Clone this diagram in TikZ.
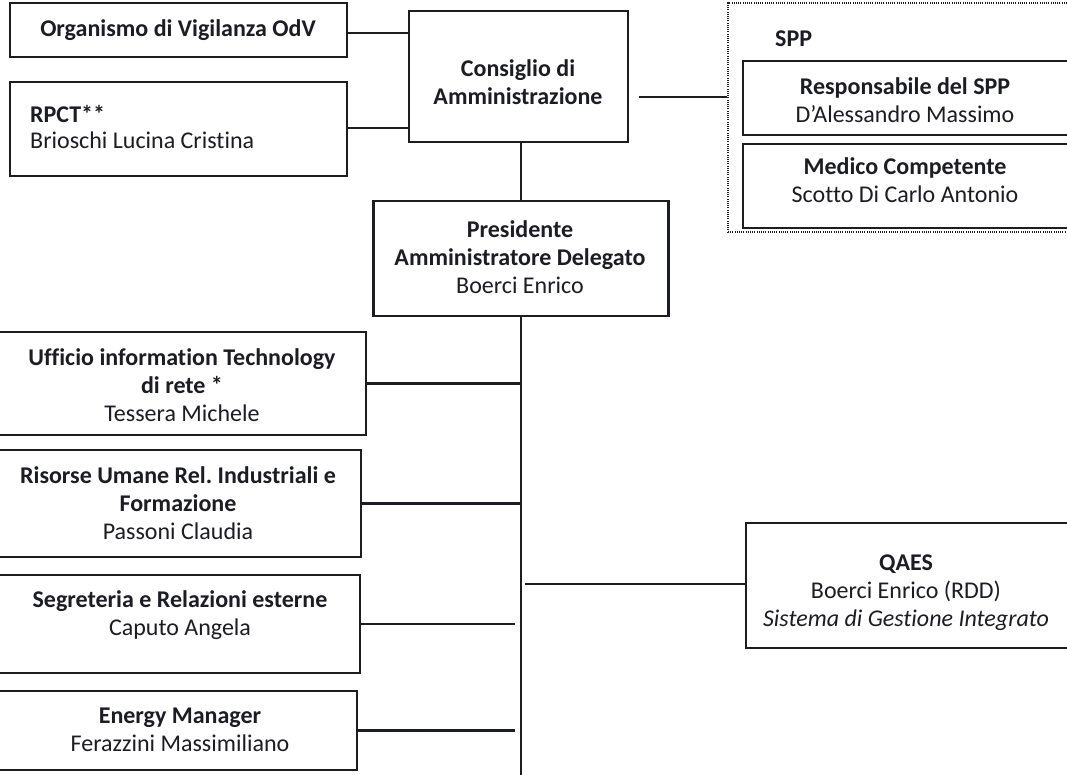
\documentclass[tikz,border=0pt]{standalone}
\usepackage{fontspec}
\setmainfont{Carlito}[Ligatures={NoCommon}]
\definecolor{ink}{RGB}{28,28,36}
\frenchspacing
\begin{document}
\begin{tikzpicture}[x=1pt,y=-1pt,
  box/.style={draw=ink, line width=2.2pt, inner sep=0pt, fill=none},
  dotbox/.style={draw=ink, line width=1.5pt, dash pattern=on 1pt off 1.2pt, inner sep=0pt},
  txt/.style={text=ink, align=center, inner sep=0pt, font=\fontsize{24}{28}\selectfont},
  ltxt/.style={text=ink, align=left, inner sep=0pt, font=\fontsize{24}{25}\selectfont},
  conn/.style={draw=ink, line width=2.2pt}]
\fill[white] (0,0) rectangle (1067,774);
\useasboundingbox (0,0) rectangle (1067,774);
% boxes
\node[box, minimum width=337, minimum height=54] (odv) at (178.5,30) {};
\node[box, minimum width=337, minimum height=94] (rpct) at (178.5,129) {};
\node[box, minimum width=219, minimum height=131] (cda) at (518.5,76.5) {};
\node[box, minimum width=295, minimum height=115] (pres) at (521,258.5) {};
\node[dotbox, minimum width=341, minimum height=229] (spp) at (898.5,117.5) {};
\node[box, minimum width=327, minimum height=74] (resp) at (906.5,98) {};
\node[box, minimum width=327, minimum height=84] (med) at (906.5,186) {};
\node[box, minimum width=372, minimum height=103] (it) at (180,383.5) {};
\node[box, minimum width=367, minimum height=107] (hr) at (177.5,503.5) {};
\node[box, minimum width=366, minimum height=98] (seg) at (177,624) {};
\node[box, minimum width=363, minimum height=79] (en) at (175.5,730.5) {};
\node[box, minimum width=324, minimum height=125] (qaes) at (908,585.5) {};
% texts
\node[txt] (odvt) at (178,30) {\bfseries Organismo di Vigilanza OdV};
\node[ltxt, anchor=west] (rpctt) at (30,127) {\bfseries RPCT**\\Brioschi Lucina Cristina};
\node[txt] (cdat) at (518,82.5) {\bfseries Consiglio di\\\bfseries Amministrazione};
\node[txt] (prest) at (520,257.5) {\bfseries Presidente\\\bfseries Amministratore Delegato\\Boerci Enrico};
\node[txt, anchor=west] (sppt) at (775,39) {\bfseries SPP};
\node[txt] (respt) at (905,100.5) {\bfseries Responsabile del SPP\\D’Alessandro Massimo};
\node[txt] (medt) at (905,180) {\bfseries Medico Competente\\Scotto Di Carlo Antonio};
\node[txt] (itt) at (182,385) {\bfseries Ufficio information Technology\\\bfseries di rete *\\Tessera Michele};
\node[txt] (hrt) at (178,503) {\bfseries Risorse Umane Rel. Industriali e\\\bfseries Formazione\\Passoni Claudia};
\node[txt] (segt) at (180,615) {\bfseries Segreteria e Relazioni esterne\\Caputo Angela};
\node[txt] (ent) at (180,729.5) {\bfseries Energy Manager\\Ferazzini Massimiliano};
\node[txt] (qaest) at (906,593) {\bfseries QAES\\Boerci Enrico (RDD)\\\itshape Sistema di Gestione Integrato};
% connectors
\draw[conn] ([yshift=-3pt]odv.east) -- ([yshift=-3pt]odv.east -| cda.west);
\draw[conn] ([yshift=1pt]rpct.east) -- ([yshift=1pt]rpct.east -| cda.west);
\draw[conn] ([shift={(10pt,-20.5pt)}]cda.east) coordinate (c1) -- (c1 -| spp.west);
\draw[conn] ([xshift=2.5pt]cda.south) -- ([xshift=2.5pt]cda.south |- pres.north);
\coordinate (tb) at (521,776);
\draw[conn] (pres.south) -- (tb);
\draw[conn] (it.east) -- (it.east -| pres.south);
\draw[conn] (hr.east) -- (hr.east -| pres.south);
\draw[conn] ([shift={(4pt,1.5pt)}]qaes.west -| pres.south) coordinate (q1) -- (q1 -| qaes.west);
\draw[conn] (seg.east) -- ([xshift=-6pt]seg.east -| pres.south);
\draw[conn] (en.east) -- ([xshift=-6pt]en.east -| pres.south);
\end{tikzpicture}
\end{document}
